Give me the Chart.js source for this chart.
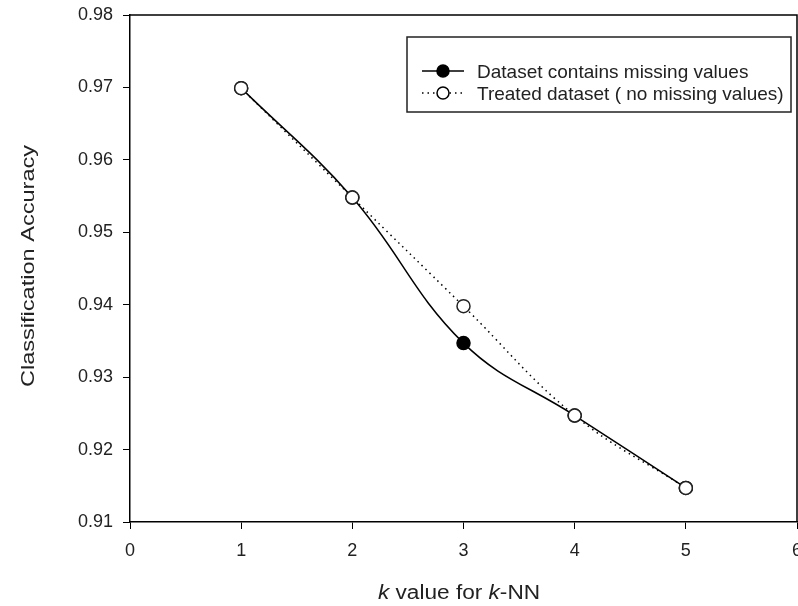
<!DOCTYPE html>
<html>
<head>
<meta charset="utf-8">
<script src="https://cdn.jsdelivr.net/npm/chart.js@4/dist/chart.umd.min.js"></script>
<style>
  html, body { margin: 0; padding: 0; background: #fff; }
  #wrap { width: 798px; height: 606px; }
</style>
</head>
<body>
<div id="wrap"><canvas id="knn-chart" width="798" height="606"></canvas></div>
<script>
// k values and accuracies
const kValues = [1, 2, 3, 4, 5];
const missingAcc = [0.9699, 0.9548, 0.9347, 0.9247, 0.9147];
const treatedAcc = [0.9699, 0.9548, 0.9398, 0.9247, 0.9147];
const seriesNames = ['Dataset contains missing values', 'Treated dataset ( no missing values)'];

const FONT = '"Liberation Sans", Arial, sans-serif';

// draws text stretched along its own direction (the scan looks a bit wide)
function stretchedText(ctx, parts, x, y, size, stretch, angle) {
    ctx.save();
    ctx.translate(x, y);
    ctx.rotate(angle);
    ctx.scale(stretch, 1);
    let total = 0;
    parts.forEach(p => {
        ctx.font = (p[1] ? 'italic ' : '') + size + 'px ' + FONT;
        total += ctx.measureText(p[0]).width;
    });
    let cx = -total / 2;
    ctx.textAlign = 'left';
    ctx.textBaseline = 'alphabetic';
    parts.forEach(p => {
        ctx.font = (p[1] ? 'italic ' : '') + size + 'px ' + FONT;
        ctx.fillText(p[0], cx, 0);
        cx += ctx.measureText(p[0]).width;
    });
    ctx.restore();
}

// frame on top/right, axis titles with italic k, boxed legend
const extras = {
    id: 'extras',
    afterDraw(chart) {
        const ctx = chart.ctx;
        const a = chart.chartArea;
        ctx.save();
        ctx.strokeStyle = '#000';
        ctx.lineWidth = 1.5;
        ctx.beginPath();
        ctx.moveTo(a.left, a.top);
        ctx.lineTo(a.right, a.top);
        ctx.lineTo(a.right, a.bottom);
        ctx.stroke();

        ctx.fillStyle = '#222';
        stretchedText(ctx, [['Classification Accuracy', false]], 34, 266, 19, 1.24, -Math.PI / 2);
        stretchedText(ctx, [['k', true], [' value for ', false], ['k', true], ['-NN', false]],
            459, 599, 19.5, 1.16, 0);

        // legend box
        const bx = 407, by = 37, bw = 384, bh = 75;
        ctx.lineWidth = 1.5;
        ctx.strokeStyle = '#222';
        ctx.fillStyle = '#fff';
        ctx.fillRect(bx, by, bw, bh);
        ctx.strokeRect(bx, by, bw, bh);
        ctx.font = '19px ' + FONT;
        ctx.textAlign = 'left';
        ctx.textBaseline = 'alphabetic';
        chart.data.datasets.forEach((ds, i) => {
            const ly = 71 + i * 22;
            ctx.strokeStyle = '#000';
            ctx.lineWidth = ds.borderWidth;
            ctx.setLineDash(ds.borderDash || []);
            ctx.beginPath();
            ctx.moveTo(422, ly);
            ctx.lineTo(464, ly);
            ctx.stroke();
            ctx.setLineDash([]);
            ctx.beginPath();
            ctx.arc(443, ly, 6, 0, Math.PI * 2);
            ctx.fillStyle = ds.pointBackgroundColor;
            ctx.fill();
            ctx.lineWidth = 1.5;
            ctx.stroke();
            ctx.fillStyle = '#222';
            ctx.fillText(ds.label, 477, ly + 7);
        });
        ctx.restore();
    }
};

new Chart(document.getElementById('knn-chart').getContext('2d'), {
    type: 'line',
    data: {
        datasets: [
            {
                label: seriesNames[0],
                data: kValues.map((k, i) => ({ x: k, y: missingAcc[i] })),
                borderColor: '#000',
                borderWidth: 1.5,
                tension: 0.4,
                pointRadius: 6.5,
                pointBackgroundColor: '#000',
                pointBorderColor: '#000',
                pointBorderWidth: 1.5,
                order: 2
            },
            {
                label: seriesNames[1],
                data: kValues.map((k, i) => ({ x: k, y: treatedAcc[i] })),
                borderColor: '#000',
                borderWidth: 1.5,
                borderDash: [1.5, 4],
                tension: 0.4,
                pointRadius: 6.5,
                pointBackgroundColor: '#fff',
                pointBorderColor: '#222',
                pointBorderWidth: 1.5,
                order: 1
            }
        ]
    },
    options: {
        responsive: false,
        animation: false,
        layout: { autoPadding: false, padding: { top: 15, right: 1, left: 0, bottom: 0 } },
        plugins: { legend: { display: false }, tooltip: { enabled: false } },
        scales: {
            x: {
                type: 'linear',
                min: 0,
                max: 6,
                afterFit: s => { s.height = 84; s.paddingLeft = 0; s.paddingRight = 0; },
                ticks: { stepSize: 1, color: '#222', font: { family: FONT, size: 18 }, padding: 11 },
                grid: { drawOnChartArea: false, drawTicks: true, tickLength: 7, color: '#000' },
                border: { display: true, color: '#000', width: 1.5 }
            },
            y: {
                min: 0.91,
                max: 0.98,
                afterFit: s => { s.width = 130; s.paddingTop = 0; s.paddingBottom = 0; },
                ticks: {
                    stepSize: 0.01,
                    color: '#222',
                    font: { family: FONT, size: 18 },
                    padding: 10,
                    callback: v => v.toFixed(2)
                },
                grid: { drawOnChartArea: false, drawTicks: true, tickLength: 7, color: '#000' },
                border: { display: true, color: '#000', width: 1.5 }
            }
        }
    },
    plugins: [extras]
});
</script>
</body>
</html>
